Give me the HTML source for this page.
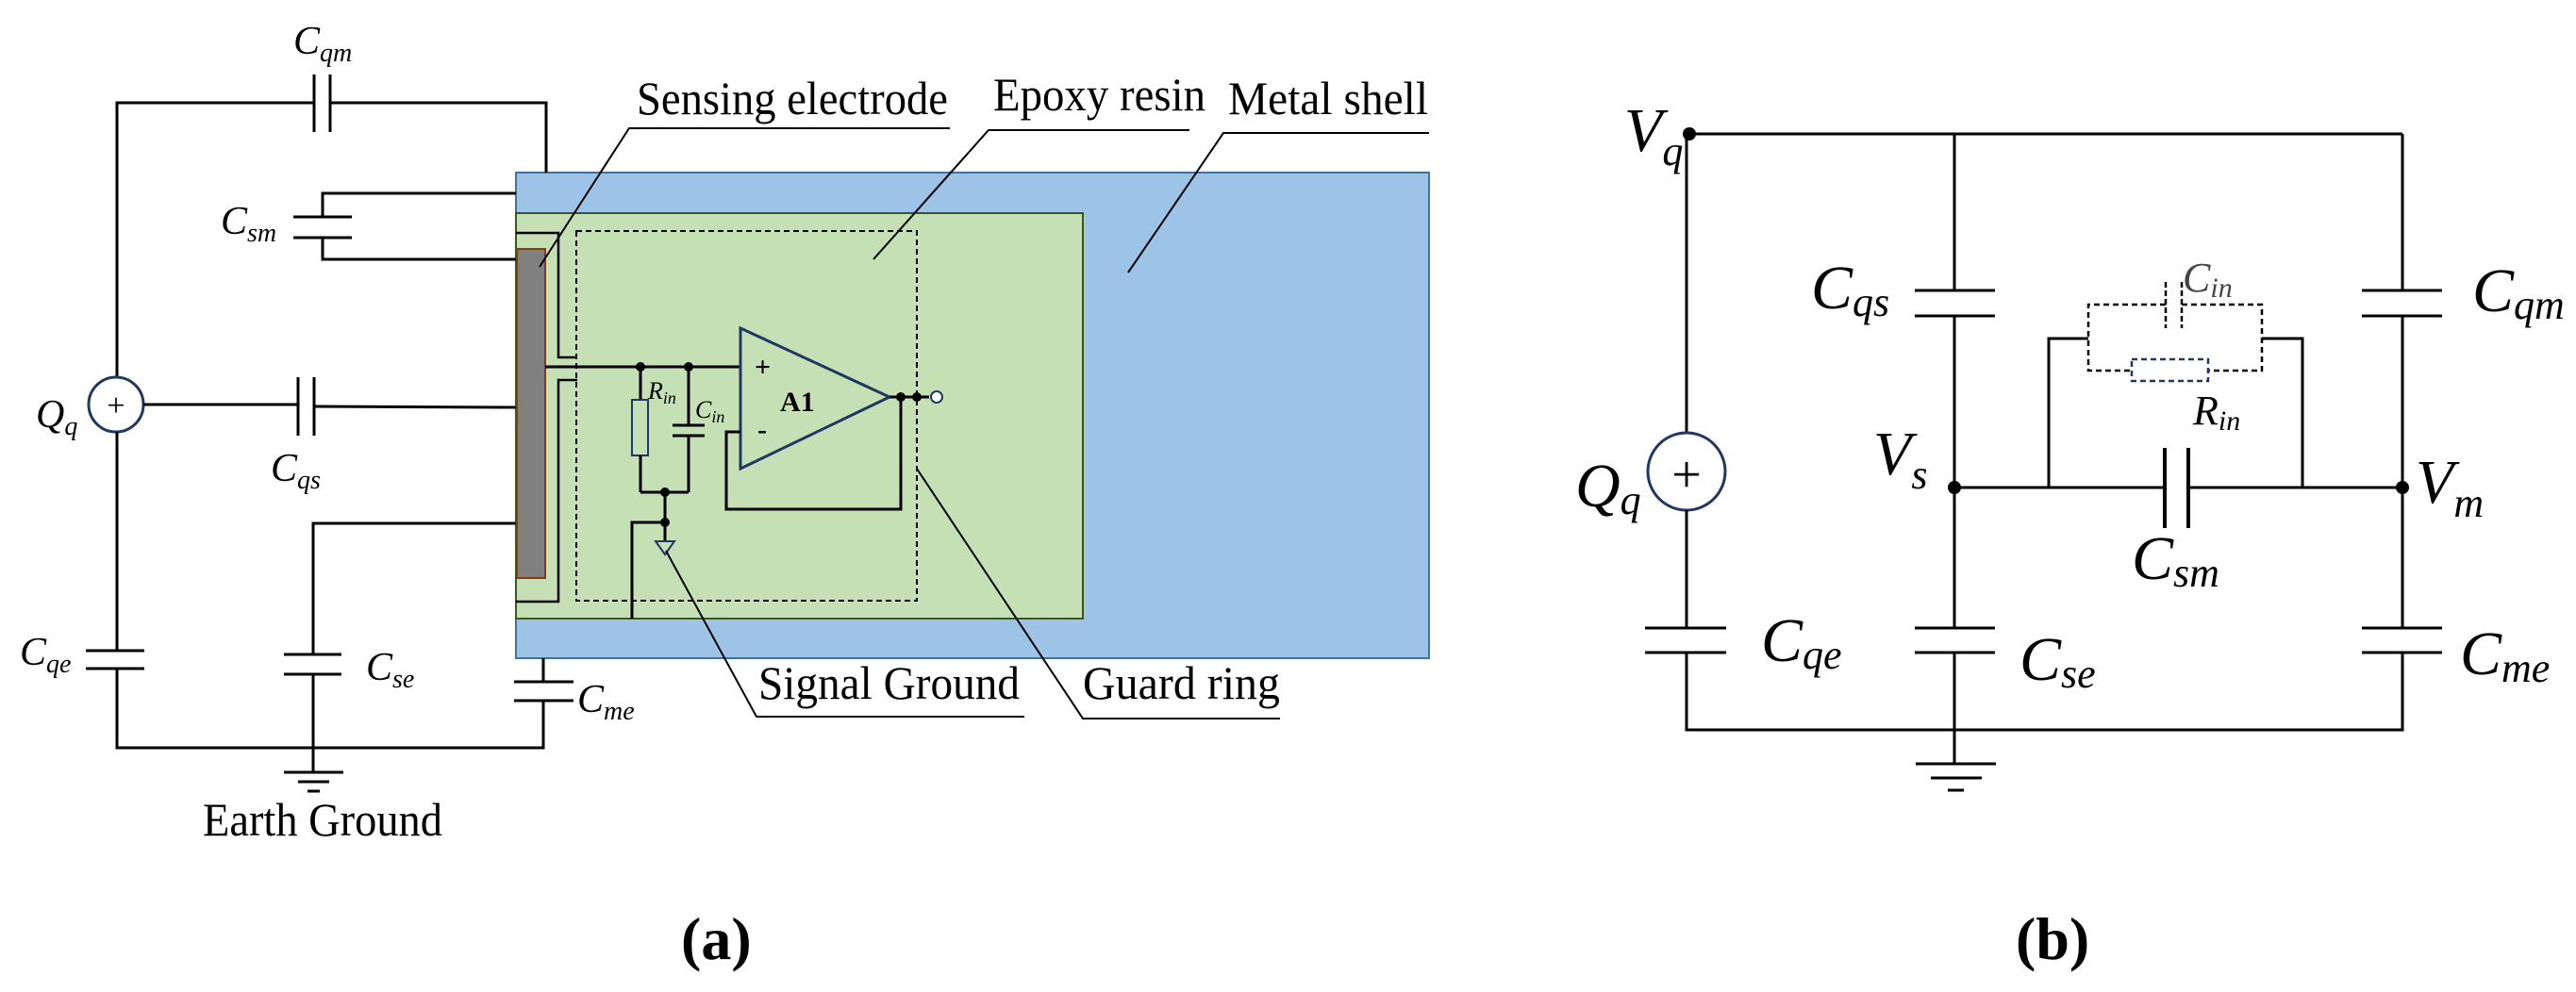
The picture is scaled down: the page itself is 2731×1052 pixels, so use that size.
<!DOCTYPE html>
<html><head><meta charset="utf-8"><style>html,body{margin:0;padding:0;background:#fff}svg{display:block}</style></head><body>
<svg width="2731" height="1052" viewBox="0 0 2731 1052" xmlns="http://www.w3.org/2000/svg" font-family="Liberation Serif, serif">
<g stroke="#000" stroke-width="3" fill="none">
<!-- LEFT PANEL -->
<rect x="547" y="183" width="968" height="515" fill="#9dc3e6" stroke="#41719c" stroke-width="2"/>
<rect x="547" y="226" width="601" height="430" fill="#c5e0b4" stroke="#385723" stroke-width="2"/>
<rect x="611" y="245" width="361" height="392" stroke-dasharray="6,4" stroke-width="2"/>
<rect x="548" y="264" width="30" height="349" fill="#808080" stroke="#843c0c" stroke-width="2"/>
<polyline points="547,247 592,247 592,379 612,379" stroke-width="2.5"/>
<polyline points="612,403 592,403 592,638 547,638" stroke-width="2.5"/>
<line x1="578" y1="389" x2="785" y2="389"/>
<line x1="679" y1="389" x2="679" y2="424"/>
<rect x="670" y="424" width="17" height="59" fill="none" stroke="#1f3864" stroke-width="2"/>
<line x1="679" y1="483" x2="679" y2="522"/>
<line x1="730" y1="389" x2="730" y2="451"/>
<line x1="713" y1="451" x2="747" y2="451"/>
<line x1="713" y1="462" x2="747" y2="462"/>
<line x1="730" y1="462" x2="730" y2="522"/>
<line x1="679" y1="522" x2="730" y2="522"/>
<line x1="705" y1="522" x2="705" y2="574"/>
<polyline points="670,656 670,554 705,554"/>
<polygon points="695,574 715,574 705,588" stroke="#1f3864" stroke-width="2"/>
<polygon points="785,348 785,497 943,421" stroke="#1f3864" fill="#c5e0b4"/>
<polyline points="943,421 985,421"/>
<polyline points="955,421 955,540 770,540 770,458 785,458"/>
<circle cx="993" cy="421" r="6" stroke="#1f3864" stroke-width="2" fill="#fff"/>
<polyline points="124,400 124,109 333,109"/>
<polyline points="350,109 579,109 579,183"/>
<line x1="333" y1="79" x2="333" y2="140"/><line x1="350" y1="79" x2="350" y2="140"/>
<polyline points="547,205 342,205 342,230"/>
<polyline points="547,275 342,275 342,252"/>
<line x1="311" y1="230" x2="373" y2="230"/><line x1="311" y1="252" x2="373" y2="252"/>
<circle cx="123" cy="429" r="29" stroke="#1f3864" fill="#fff"/>
<line x1="124" y1="458" x2="124" y2="690"/>
<line x1="91" y1="690" x2="153" y2="690"/><line x1="91" y1="709" x2="153" y2="709"/>
<polyline points="124,709 124,793 576,793 576,743"/>
<line x1="152" y1="429" x2="316" y2="429"/>
<line x1="316" y1="400" x2="316" y2="462"/><line x1="333" y1="400" x2="333" y2="462"/>
<line x1="333" y1="431" x2="547" y2="432"/>
<polyline points="547,555 332,555 332,694"/>
<line x1="301" y1="694" x2="362" y2="694"/><line x1="301" y1="715" x2="362" y2="715"/>
<line x1="332" y1="715" x2="332" y2="819"/>
<line x1="301" y1="819" x2="364" y2="819"/><line x1="316" y1="829" x2="349" y2="829"/><line x1="326" y1="839" x2="339" y2="839"/>
<line x1="576" y1="698" x2="576" y2="723"/>
<line x1="545" y1="723" x2="608" y2="723"/><line x1="545" y1="743" x2="608" y2="743"/>
<g stroke-width="2">
<polyline points="1007,136 667,136 572,283"/>
<polyline points="1261,138 1048,138 926,275"/>
<polyline points="1515,141 1297,141 1196,289"/>
<polyline points="1086,760 802,760 706,584"/>
<polyline points="1357,762 1148,762 972,497"/>
</g>
<!-- RIGHT PANEL -->
<line x1="1791" y1="142" x2="2547" y2="142"/>
<line x1="1788" y1="142" x2="1788" y2="459"/>
<circle cx="1788" cy="500" r="41" stroke="#1f3864"/>
<line x1="1788" y1="541" x2="1788" y2="666"/>
<line x1="1744" y1="666" x2="1830" y2="666"/><line x1="1744" y1="692" x2="1830" y2="692"/>
<polyline points="1788,692 1788,774 2547,774 2547,692"/>
<line x1="2072" y1="142" x2="2072" y2="308"/>
<line x1="2030" y1="308" x2="2115" y2="308"/><line x1="2030" y1="335" x2="2115" y2="335"/>
<line x1="2072" y1="335" x2="2072" y2="666"/>
<line x1="2030" y1="666" x2="2115" y2="666"/><line x1="2030" y1="692" x2="2115" y2="692"/>
<line x1="2072" y1="692" x2="2072" y2="810"/>
<line x1="2031" y1="810" x2="2116" y2="810"/><line x1="2047" y1="825" x2="2101" y2="825"/><line x1="2065" y1="838" x2="2082" y2="838"/>
<line x1="2547" y1="142" x2="2547" y2="308"/>
<line x1="2504" y1="308" x2="2589" y2="308"/><line x1="2504" y1="335" x2="2589" y2="335"/>
<line x1="2547" y1="335" x2="2547" y2="666"/>
<line x1="2504" y1="666" x2="2589" y2="666"/><line x1="2504" y1="692" x2="2589" y2="692"/>
<line x1="2072" y1="517" x2="2295" y2="517"/><line x1="2320" y1="517" x2="2547" y2="517"/>
<line x1="2295" y1="475" x2="2295" y2="560" stroke-width="4"/><line x1="2320" y1="475" x2="2320" y2="560" stroke-width="4"/>
<polyline points="2172,517 2172,359 2214,359"/>
<polyline points="2441,517 2441,359 2398,359"/>
<g stroke-dasharray="6,4" stroke-width="2.5">
<polyline points="2296,323 2214,323 2214,393 2260,393"/>
<polyline points="2313,323 2398,323 2398,393 2341,393"/>
<rect x="2260" y="381" width="81" height="23" stroke="#1f3864"/>
</g>
<line x1="2296" y1="299" x2="2296" y2="348" stroke-width="2.5" stroke-dasharray="6,3"/>
<line x1="2313" y1="299" x2="2313" y2="348" stroke-width="2.5" stroke-dasharray="6,3"/>
</g>
<g fill="#000">
<circle cx="679" cy="389" r="5"/><circle cx="730" cy="389" r="5"/><circle cx="705" cy="522" r="5"/><circle cx="705" cy="554" r="5"/>
<circle cx="955" cy="421" r="5"/><circle cx="972" cy="421" r="5"/>
<circle cx="1791" cy="142" r="7"/><circle cx="2072" cy="517" r="7"/><circle cx="2547" cy="517" r="7"/>
</g>
<g fill="#000" font-size="42" font-style="italic">
<text x="311" y="57">C<tspan font-size="28" dy="8">qm</tspan></text>
<text x="234" y="248">C<tspan font-size="28" dy="8">sm</tspan></text>
<text x="38" y="453">Q<tspan font-size="28" dy="8">q</tspan></text>
<text x="287" y="510">C<tspan font-size="28" dy="8">qs</tspan></text>
<text x="21" y="705">C<tspan font-size="28" dy="8">qe</tspan></text>
<text x="388" y="721">C<tspan font-size="28" dy="8">se</tspan></text>
<text x="612" y="755">C<tspan font-size="28" dy="8">me</tspan></text>
<text x="687" y="423" font-size="26">R<tspan font-size="18" dy="5">in</tspan></text>
<text x="737" y="443" font-size="26">C<tspan font-size="18" dy="5">in</tspan></text>
</g>
<g fill="#000" font-size="30" font-weight="bold">
<text x="800" y="399">+</text><text x="803" y="465">-</text>
<text x="827" y="436">A1</text>
</g>
<text x="123" y="441" font-size="34" text-anchor="middle">+</text>
<g fill="#000" font-size="50">
<text x="675" y="121" textLength="330" lengthAdjust="spacingAndGlyphs">Sensing electrode</text>
<text x="1053" y="117" textLength="225" lengthAdjust="spacingAndGlyphs">Epoxy resin</text>
<text x="1302" y="121" textLength="212" lengthAdjust="spacingAndGlyphs">Metal shell</text>
<text x="804" y="741" textLength="277" lengthAdjust="spacingAndGlyphs">Signal Ground</text>
<text x="1148" y="741" textLength="209" lengthAdjust="spacingAndGlyphs">Guard ring</text>
<text x="215" y="886" textLength="254" lengthAdjust="spacingAndGlyphs">Earth Ground</text>
</g>
<text x="722" y="1017" font-size="64" font-weight="bold">(a)</text>
<g fill="#000" font-size="66" font-style="italic">
<text x="1722" y="160">V<tspan font-size="44" dy="15">q</tspan></text>
<text x="1920" y="327">C<tspan font-size="44" dy="8">qs</tspan></text>
<text x="2621" y="330">C<tspan font-size="44" dy="8">qm</tspan></text>
<text x="1670" y="537">Q<tspan font-size="44" dy="8">q</tspan></text>
<text x="1986" y="503">V<tspan font-size="44" dy="15">s</tspan></text>
<text x="2561" y="533">V<tspan font-size="44" dy="15">m</tspan></text>
<text x="2260" y="614">C<tspan font-size="44" dy="8">sm</tspan></text>
<text x="1867" y="701">C<tspan font-size="44" dy="8">qe</tspan></text>
<text x="2141" y="721">C<tspan font-size="44" dy="8">se</tspan></text>
<text x="2608" y="715">C<tspan font-size="44" dy="8">me</tspan></text>
<text x="2314" y="309" font-size="44" fill="#444">C<tspan font-size="30" dy="6">in</tspan></text>
<text x="2325" y="450" font-size="44">R<tspan font-size="30" dy="6">in</tspan></text>
</g>
<text x="1788" y="522" font-size="56" text-anchor="middle">+</text>
<text x="2137" y="1017" font-size="64" font-weight="bold">(b)</text>
</svg>
</body></html>
